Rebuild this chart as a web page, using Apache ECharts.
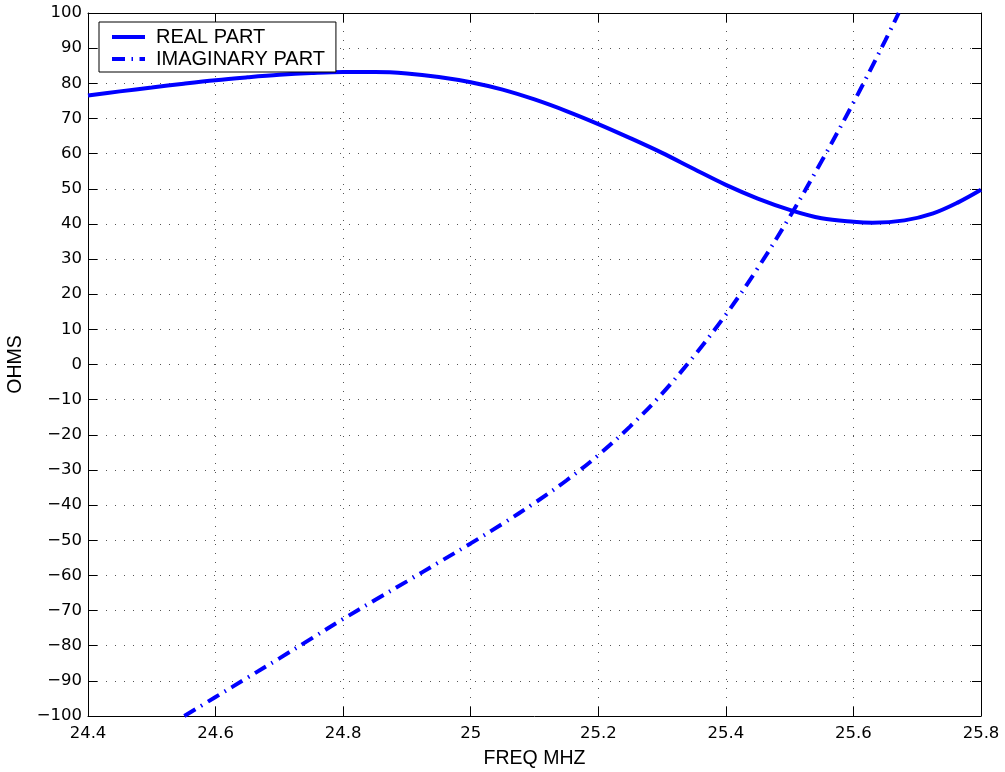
<!DOCTYPE html>
<html>
<head>
<meta charset="utf-8">
<script src="https://cdn.jsdelivr.net/npm/echarts@6/dist/echarts.min.js"></script>
<style>
  html, body { margin: 0; padding: 0; background: #fff; }
  #chart { width: 1005px; height: 772px; }
</style>
</head>
<body>
<div id="chart"></div>
<script>
// Frequency sweep (MHz) and impedance components (ohms)
const realFreq = [24.4, 24.45, 24.5, 24.55, 24.6, 24.65, 24.7, 24.75, 24.8, 24.85,
  24.9, 24.95, 25.0, 25.05, 25.1, 25.15, 25.2, 25.25, 25.3, 25.35,
  25.4, 25.45, 25.5, 25.55, 25.6, 25.63, 25.68, 25.725, 25.765, 25.8];
const realOhms = [76.5, 77.7, 78.8, 79.9, 80.9, 81.7, 82.4, 82.9, 83.2, 83.2,
  82.8, 81.8, 80.3, 78.2, 75.4, 72.1, 68.4, 64.4, 60.2, 55.6,
  51.1, 47.2, 44.0, 41.6, 40.6, 40.35, 41.0, 43.0, 46.2, 49.7];

const imagFreq = [24.551, 24.6, 24.65, 24.7, 24.75, 24.8, 24.85, 24.9, 24.95, 25.0,
  25.05, 25.1, 25.15, 25.2, 25.25, 25.3, 25.35, 25.4, 25.45, 25.5,
  25.55, 25.6, 25.65, 25.671];
const imagOhms = [-100, -94.6, -89.1, -83.6, -78.0, -72.4, -67.0, -61.7, -56.3, -50.9,
  -45.3, -39.4, -33.0, -25.8, -17.6, -8.3, 2.4, 14.2, 27.4, 42.0,
  57.8, 74.5, 92.2, 100];

const seriesNames = ['REAL PART', 'IMAGINARY PART'];
const xTicks = [24.4, 24.6, 24.8, 25.0, 25.2, 25.4, 25.6, 25.8];
const yTicks = [-100, -90, -80, -70, -60, -50, -40, -30, -20, -10, 0, 10, 20, 30, 40, 50, 60, 70, 80, 90, 100];

const pairs = (xs, ys) => xs.map((x, i) => [x, ys[i]]);
const textFont = 'Liberation Sans, Arial, Helvetica, sans-serif';
const tickFont = 'DejaVu Sans, sans-serif';
const fmtNum = v => String(parseFloat(Number(v).toFixed(1))).replace('-', '\u2212');

const xStep = +(xTicks[1] - xTicks[0]).toFixed(4);
const yStep = yTicks[1] - yTicks[0];

const gridLine = { show: true, lineStyle: { color: '#555', width: 1, type: [1, 8] } };
const boxLine = { show: true, onZero: false, lineStyle: { color: '#000', width: 1 } };
const tickIn = { show: true, inside: true, length: 9, lineStyle: { color: '#000' } };
const tickLabel = { fontFamily: tickFont, fontSize: 16.5, color: '#000', formatter: fmtNum };

const chart = echarts.init(document.getElementById('chart'), null, { renderer: 'canvas' });
chart.setOption({
  animation: false,
  backgroundColor: '#fff',
  grid: { left: 88, right: 24, top: 13, bottom: 56, containLabel: false, outerBoundsMode: 'none' },
  legend: {
    data: seriesNames,
    orient: 'vertical',
    left: 99,
    top: 22,
    itemWidth: 33,
    itemHeight: 14,
    itemGap: 2,
    padding: [5, 11, 3, 11],
    borderColor: '#000',
    borderWidth: 1,
    borderRadius: 0,
    backgroundColor: '#fff',
    itemStyle: { opacity: 0 },
    lineStyle: { width: 4 },
    textStyle: { fontFamily: textFont, fontSize: 20, color: '#000', padding: [0, 0, 0, 6] }
  },
  xAxis: [{
    type: 'value',
    min: xTicks[0], max: xTicks[xTicks.length - 1], interval: xStep,
    name: 'FREQ MHZ', nameLocation: 'middle', nameGap: 33,
    nameTextStyle: { fontFamily: textFont, fontSize: 19.5, color: '#000' },
    axisLine: boxLine,
    axisTick: tickIn,
    axisLabel: Object.assign({ margin: 9 }, tickLabel),
    splitLine: gridLine
  }, {
    type: 'value', position: 'top',
    min: xTicks[0], max: xTicks[xTicks.length - 1], interval: xStep,
    axisLine: boxLine,
    axisTick: tickIn,
    axisLabel: { show: false },
    splitLine: { show: false }
  }],
  yAxis: [{
    type: 'value',
    min: yTicks[0], max: yTicks[yTicks.length - 1], interval: yStep,
    name: 'OHMS', nameLocation: 'middle', nameGap: 62,
    nameTextStyle: { fontFamily: textFont, fontSize: 19.5, color: '#000' },
    axisLine: boxLine,
    axisTick: tickIn,
    axisLabel: Object.assign({ margin: 6 }, tickLabel),
    splitLine: gridLine
  }, {
    type: 'value', position: 'right',
    min: yTicks[0], max: yTicks[yTicks.length - 1], interval: yStep,
    axisLine: boxLine,
    axisTick: tickIn,
    axisLabel: { show: false },
    splitLine: { show: false }
  }],
  series: [{
    name: seriesNames[0],
    type: 'line',
    data: pairs(realFreq, realOhms),
    smooth: 0.35,
    symbol: 'none',
    clip: true,
    lineStyle: { color: '#0000ff', width: 4 },
    itemStyle: { color: '#0000ff' }
  }, {
    name: seriesNames[1],
    type: 'line',
    data: pairs(imagFreq, imagOhms),
    smooth: 0.35,
    symbol: 'none',
    clip: true,
    lineStyle: { color: '#0000ff', width: 4, type: [13, 6.5, 1.5, 6.5], cap: 'butt' },
    itemStyle: { color: '#0000ff' }
  }]
});
</script>
</body>
</html>
